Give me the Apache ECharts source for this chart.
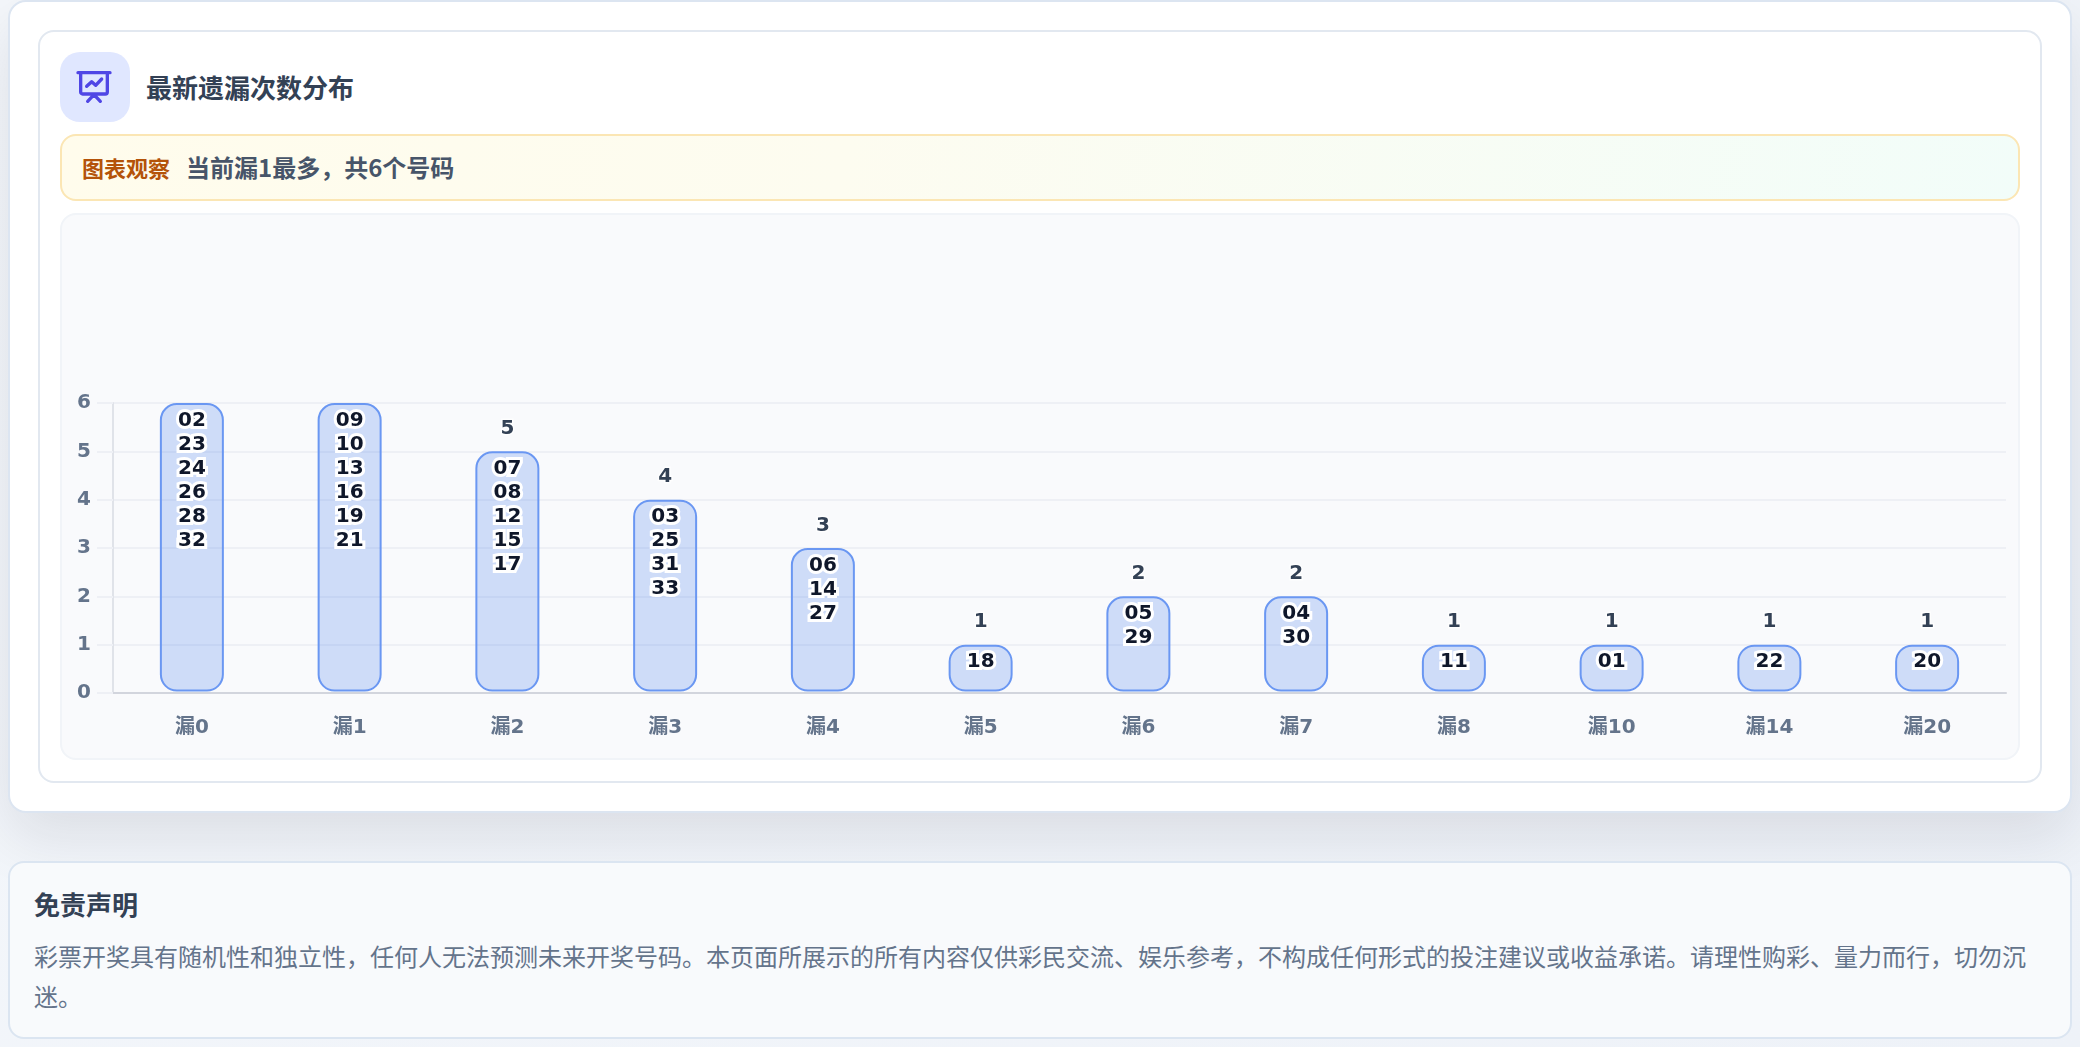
<!DOCTYPE html>
<html lang="zh">
<head>
<meta charset="utf-8">
<title>最新遗漏次数分布</title>
<script src="https://cdn.jsdelivr.net/npm/echarts@6/dist/echarts.min.js"></script>
<style>
html,body{margin:0;padding:0;width:2080px;height:1047px;overflow:hidden;
  background:linear-gradient(135deg,#f4f7fb 0%,#eef2f8 100%);
  font-family:"DejaVu Sans","Noto Sans CJK SC",sans-serif;}
.box{position:absolute;box-sizing:border-box;}
#outer{left:8px;top:0;width:2064px;height:813px;background:#fff;border:2px solid #dce5f1;border-radius:18px;
  box-shadow:0 24px 60px rgba(15,23,42,.10);}
#inner{left:38px;top:30px;width:2004px;height:753px;background:#fff;border:2px solid #e2e8f0;border-radius:16px;}
#icon{left:60px;top:52px;width:70px;height:70px;border-radius:20px;background:#e0e7ff;}
#icon svg{position:absolute;left:14px;top:15px;width:40px;height:40px;}
.t{position:absolute;white-space:nowrap;font-family:"Noto Sans CJK SC","DejaVu Sans",sans-serif;}
#title{left:146px;top:67px;line-height:40px;font-size:26px;font-weight:700;color:#334155;}
#banner{left:60px;top:134px;width:1960px;height:67px;border:2px solid #fbe6b4;border-radius:16px;
  background:linear-gradient(100deg,#fffcec 0%,#fdfcf0 40%,#f2fdf9 100%);}
#bk{left:82px;top:147px;line-height:40px;font-size:22px;font-weight:700;color:#b45309;}
#bv{left:186px;top:147px;line-height:40px;font-size:24px;font-weight:700;color:#475569;}
#panel{left:60px;top:213px;width:1960px;height:547px;background:#f9fafc;border:2px solid #f1f4f8;border-radius:16px;}
#chart{position:absolute;left:60px;top:213px;width:1960px;height:547px;}
#disc{left:8px;top:861px;width:2064px;height:178px;background:#f8fafc;border:2px solid #dbe5f1;border-radius:16px;}
#dt{left:34px;top:884px;line-height:40px;font-size:26px;font-weight:700;color:#334155;}
#dp{left:34px;top:936px;width:2012px;line-height:40px;font-size:24px;color:#64748b;white-space:normal;}
</style>
</head>
<body>
<div class="box" id="outer"></div>
<div class="box" id="inner"></div>
<div class="box" id="icon">
<svg viewBox="0 0 24 24" fill="none" stroke="#4f46e5" stroke-width="2" stroke-linecap="round" stroke-linejoin="round">
<path d="M2.4 3.4H21.6M4 3.4V15A1.2 1.2 0 0 0 5.2 16.2H18.8A1.2 1.2 0 0 0 20 15V3.4M12 16.6 8.2 20.6M12 16.6 15.8 20.6M7.6 11.6 10.6 8.8 13 11 16.6 7.2"/>
</svg>
</div>
<div class="t" id="title">最新遗漏次数分布</div>
<div class="box" id="banner"></div>
<div class="t" id="bk">图表观察</div>
<div class="t" id="bv">当前漏1最多，共6个号码</div>
<div class="box" id="panel"></div>
<div id="chart"></div>
<div class="box" id="disc"></div>
<div class="t" id="dt">免责声明</div>
<div class="t" id="dp">彩票开奖具有随机性和独立性，任何人无法预测未来开奖号码。本页面所展示的所有内容仅供彩民交流、娱乐参考，不构成任何形式的投注建议或收益承诺。请理性购彩、量力而行，切勿沉迷。</div>
<script>
const categories = ['漏0','漏1','漏2','漏3','漏4','漏5','漏6','漏7','漏8','漏10','漏14','漏20'];
const counts = [6,6,5,4,3,1,2,2,1,1,1,1];
const ballNumbers = [
  ['02','23','24','26','28','32'],
  ['09','10','13','16','19','21'],
  ['07','08','12','15','17'],
  ['03','25','31','33'],
  ['06','14','27'],
  ['18'],
  ['05','29'],
  ['04','30'],
  ['11'],
  ['01'],
  ['22'],
  ['20']
];
const yTicks = [0,1,2,3,4,5,6];

const FONT = '"DejaVu Sans","Noto Sans CJK SC",sans-serif';
const chart = echarts.init(document.getElementById('chart'), null, {renderer:'canvas'});

function renderBar(params, api){
  const i = api.value(0), v = api.value(1);
  const top = api.coord([i, v]);
  const base = api.coord([i, 0]);
  const w = api.size([1, 0])[0] * 0.393;
  const y0 = top[1] + 1, y1 = base[1] - 2.4;
  const children = [{
    type:'rect',
    shape:{x:top[0]-w/2, y:y0, width:w, height:y1-y0, r:16},
    style:{fill:'rgba(37,99,235,0.2)', stroke:'#6a97f2', lineWidth:2}
  }];
  const atMax = v === yTicks[yTicks.length-1];
  children.push({
    type:'text',
    style:{text:String(v), x:top[0], y: atMax ? y0+18 : y0-23.5, align:'center', verticalAlign:'middle',
      font:'700 20px '+FONT, fill:'#334155', stroke:'rgba(255,255,255,0.75)', lineWidth:3, lineJoin:'round'}
  });
  ballNumbers[i].forEach(function(n, k){
    children.push({
      type:'text',
      style:{text:n, x:top[0], y:y0+16.5+k*24, align:'center', verticalAlign:'middle',
        font:'700 20px '+FONT, fill:'#0f172a', stroke:'#ffffff', lineWidth:6, lineJoin:'round'}
    });
  });
  return {type:'group', children:children};
}

chart.setOption({
  animation:false,
  backgroundColor:'transparent',
  grid:{left:53, right:14, top:190, height:290, containLabel:false},
  xAxis:{
    type:'category', data:categories,
    axisLine:{lineStyle:{color:'#d2d5dd', width:2}},
    axisTick:{show:false},
    axisLabel:{margin:25, fontSize:20, fontWeight:700, color:'#64748b', fontFamily:FONT},
    splitLine:{show:false}
  },
  yAxis:{
    type:'value', min:0, max:6, interval:1,
    axisLine:{show:true, lineStyle:{color:'#e0e3e9', width:2}},
    axisTick:{show:true, length:16, lineStyle:{color:'#eef0f5', width:2}},
    axisLabel:{margin:22, fontSize:20, fontWeight:700, color:'#64748b', fontFamily:FONT, padding:[0,0,2,0]},
    splitLine:{show:true, lineStyle:{color:'#eef0f5', width:2}}
  },
  series:[{
    type:'custom', renderItem:renderBar, clip:false,
    encode:{x:0, y:1},
    data:counts.map(function(c,i){return [i,c];})
  }]
});
</script>
</body>
</html>
